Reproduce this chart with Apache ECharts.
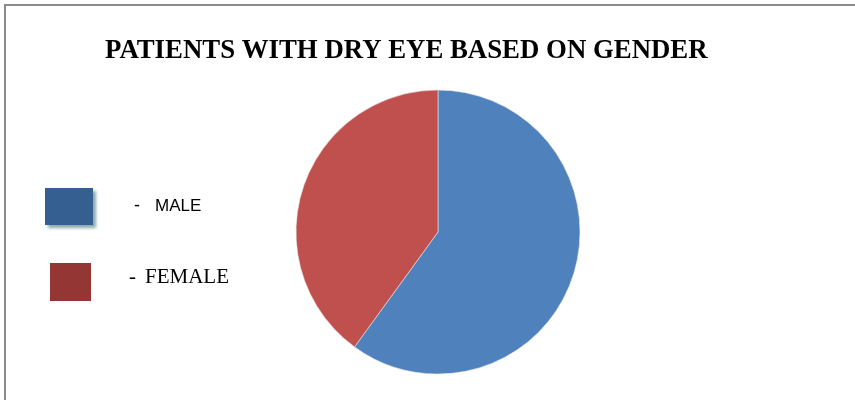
<!DOCTYPE html>
<html>
<head>
<meta charset="utf-8">
<script src="https://cdn.jsdelivr.net/npm/echarts@6/dist/echarts.min.js"></script>
<style>
html,body{margin:0;padding:0;background:#fff;}
#chart{width:855px;height:400px;}
</style>
</head>
<body>
<div id="chart"></div>
<script>
const titleText = 'PATIENTS WITH DRY EYE BASED ON GENDER';
const categories = ['MALE', 'FEMALE'];
const values = [60, 40];
const pieColors = ['#4f81bd', '#c0504d'];
const legendColors = ['#365f91', '#943634'];

const chart = echarts.init(document.getElementById('chart'));
chart.setOption({
  animation: false,
  backgroundColor: '#fff',
  title: {
    text: titleText,
    left: 105,
    top: 38,
    padding: 0,
    textStyle: {
      fontFamily: 'Liberation Serif',
      fontWeight: 'bold',
      fontSize: 26.8,
      color: '#000'
    }
  },
  legend: [
    {
      data: [{ name: categories[0], itemStyle: { color: legendColors[0], borderWidth: 0, shadowColor: 'rgba(90,130,140,0.7)', shadowBlur: 3, shadowOffsetX: 3, shadowOffsetY: 3 } }],
      left: 45, top: 188, padding: 0,
      itemWidth: 48, itemHeight: 37,
      icon: 'rect',
      selectedMode: false,
      formatter: function (n) { return '{d|-}{t|' + n + '}'; },
      textStyle: {
        rich: {
          d: { fontFamily: 'Liberation Sans', fontSize: 18, color: '#000', padding: [0, 0, 0, 36] },
          t: { fontFamily: 'Liberation Sans', fontSize: 17, color: '#000', padding: [0, 0, 0, 15] }
        }
      }
    },
    {
      data: [{ name: categories[1], itemStyle: { color: legendColors[1], borderWidth: 0 } }],
      left: 50, top: 263, padding: 0,
      itemWidth: 41, itemHeight: 38,
      icon: 'rect',
      selectedMode: false,
      formatter: function (n) { return '{d|-}{t|' + n + '}'; },
      textStyle: {
        rich: {
          d: { fontFamily: 'Liberation Serif', fontSize: 21, color: '#000', padding: [0, 0, 10, 33] },
          t: { fontFamily: 'Liberation Serif', fontSize: 21, color: '#000', padding: [0, 0, 10, 9] }
        }
      }
    }
  ],
  graphic: [
    {
      type: 'rect',
      shape: { x: 5, y: 5, width: 900, height: 450 },
      style: { fill: 'none', stroke: '#8a8a8a', lineWidth: 2 },
      silent: true
    }
  ],
  series: [
    {
      type: 'pie',
      center: [438, 232],
      radius: 142,
      startAngle: 90,
      clockwise: true,
      label: { show: false },
      labelLine: { show: false },
      itemStyle: { borderColor: '#e8e8e8', borderWidth: 0.6 },
      data: categories.map((c, i) => ({ name: c, value: values[i], itemStyle: { color: pieColors[i] } }))
    }
  ]
});
</script>
</body>
</html>
